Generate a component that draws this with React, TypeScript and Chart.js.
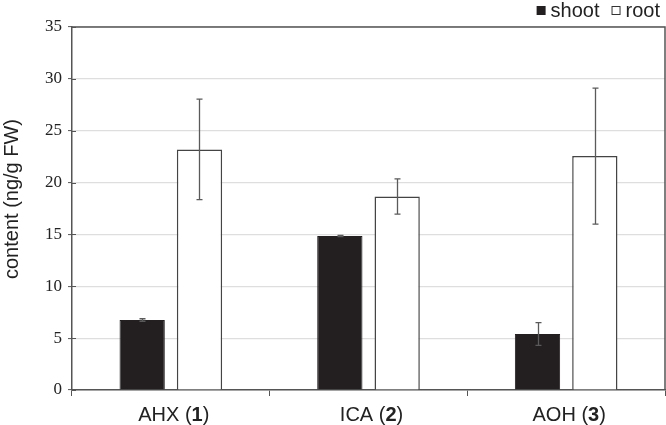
import React, { useEffect, useRef } from 'react';
import { Chart, registerables } from 'chart.js';

Chart.register(...registerables);

const categories = ['AHX', 'ICA', 'AOH'];
const compoundNumbers = ['1', '2', '3'];
const seriesLabels = ['shoot', 'root'];
const shootValues = [6.75, 14.85, 5.4];
const shootErrors = [0.12, 0.06, 1.1];
const rootValues = [23.2, 18.65, 22.55];
const rootErrors = [4.85, 1.7, 6.55];
const yMin = 0;
const yMax = 35;
const yStep = 5;
const yTitle = 'content (ng/g FW)';

const SANS = '"Liberation Sans", Arial, sans-serif';
const SERIF = '"Liberation Serif", "Times New Roman", serif';
const AXIS = '#555555';
const TEXT = '#222222';
const SHOOT = '#231f20';
const LABEL_PX = 20;

const errors = [shootErrors, rootErrors];

const decorPlugin = {
  id: 'decor',
  afterDatasetsDraw(chart: any) {
    const ctx = chart.ctx;
    const y = chart.scales.y;
    ctx.save();
    ctx.strokeStyle = '#5a5a5a';
    ctx.lineWidth = 1.3;
    chart.data.datasets.forEach((ds: any, di: number) => {
      const meta = chart.getDatasetMeta(di);
      meta.data.forEach((el: any, i: number) => {
        const v = ds.data[i];
        const e = errors[di][i];
        const x = Math.round(el.x) + 0.5;
        const yt = y.getPixelForValue(v + e);
        const yb = y.getPixelForValue(v - e);
        ctx.beginPath();
        ctx.moveTo(x, yt);
        ctx.lineTo(x, yb);
        ctx.moveTo(x - 3, yt);
        ctx.lineTo(x + 3, yt);
        ctx.moveTo(x - 3, yb);
        ctx.lineTo(x + 3, yb);
        ctx.stroke();
      });
    });
    ctx.restore();
  },
  afterDraw(chart: any) {
    const ctx = chart.ctx;
    const a = chart.chartArea;
    const ys = chart.scales.y;
    const xs = chart.scales.x;
    ctx.save();
    ctx.strokeStyle = AXIS;
    ctx.lineWidth = 1.5;
    ctx.beginPath();
    ctx.moveTo(a.left, a.top);
    ctx.lineTo(a.right, a.top);
    ctx.lineTo(a.right, a.bottom);
    ctx.stroke();
    ctx.lineWidth = 1;
    ys.ticks.forEach((t: any) => {
      const py = Math.round(ys.getPixelForValue(t.value)) + 0.5;
      ctx.beginPath();
      ctx.moveTo(a.left, py);
      ctx.lineTo(a.left + 4, py);
      ctx.stroke();
    });
    // y title
    ctx.fillStyle = TEXT;
    ctx.font = `${LABEL_PX}px ${SANS}`;
    ctx.textAlign = 'center';
    ctx.textBaseline = 'middle';
    ctx.translate(12, 199);
    ctx.rotate(-Math.PI / 2);
    ctx.fillText(yTitle, 0, 0);
    ctx.setTransform(1, 0, 0, 1, 0, 0);
    // x labels with bold numbers
    ctx.textBaseline = 'alphabetic';
    ctx.textAlign = 'left';
    categories.forEach((c, i) => {
      const cx = xs.getPixelForValue(i);
      const p1 = c + ' (';
      const p2 = compoundNumbers[i];
      const p3 = ')';
      ctx.font = `${LABEL_PX}px ${SANS}`;
      const w1 = ctx.measureText(p1).width;
      const w3 = ctx.measureText(p3).width;
      ctx.font = `bold ${LABEL_PX}px ${SANS}`;
      const w2 = ctx.measureText(p2).width;
      let x = cx + 3 - (w1 + w2 + w3) / 2;
      const by = 421;
      ctx.font = `${LABEL_PX}px ${SANS}`;
      ctx.fillText(p1, x, by);
      x += w1;
      ctx.font = `bold ${LABEL_PX}px ${SANS}`;
      ctx.fillText(p2, x, by);
      x += w2;
      ctx.font = `${LABEL_PX}px ${SANS}`;
      ctx.fillText(p3, x, by);
    });
    // legend
    ctx.font = `${LABEL_PX}px ${SANS}`;
    const box = 9;
    const gapBox = 5;
    const gapItem = 12;
    const wShoot = ctx.measureText(seriesLabels[0]).width;
    const wRoot = ctx.measureText(seriesLabels[1]).width;
    const total = box + gapBox + wShoot + gapItem + box + gapBox + wRoot;
    let lx = 660 - total;
    const base = 17;
    ctx.fillStyle = SHOOT;
    ctx.fillRect(lx, base - 11, box, box);
    lx += box + gapBox;
    ctx.fillStyle = TEXT;
    ctx.fillText(seriesLabels[0], lx, base);
    lx += wShoot + gapItem;
    ctx.fillStyle = '#ffffff';
    ctx.fillRect(lx, base - 11, box, box);
    ctx.strokeStyle = '#333';
    ctx.lineWidth = 1;
    ctx.strokeRect(lx + 0.5, base - 10.5, box - 1, box - 1);
    lx += box + gapBox;
    ctx.fillStyle = TEXT;
    ctx.fillText(seriesLabels[1], lx, base);
    ctx.restore();
  },
};

export default function App() {
  const ref = useRef<HTMLCanvasElement | null>(null);
  useEffect(() => {
    if (!ref.current) return;
    const chart = new Chart(ref.current, {
      type: 'bar',
      data: {
        labels: categories,
        datasets: [
          {
            label: seriesLabels[0],
            data: shootValues,
            backgroundColor: SHOOT,
            borderColor: SHOOT,
            borderWidth: 1,
            barPercentage: 0.79,
            categoryPercentage: 0.58,
          },
          {
            label: seriesLabels[1],
            data: rootValues,
            backgroundColor: '#ffffff',
            borderColor: '#444444',
            borderWidth: 1.5,
            barPercentage: 0.79,
            categoryPercentage: 0.58,
          },
        ],
      },
      options: {
        animation: false,
        responsive: true,
        maintainAspectRatio: false,
        layout: { padding: { top: 27, right: 1, left: 0, bottom: 0 } },
        plugins: {
          legend: { display: false },
          tooltip: { enabled: false },
          title: { display: false },
        },
        scales: {
          x: {
            offset: true,
            grid: {
              offset: true,
              drawOnChartArea: false,
              drawTicks: true,
              tickLength: 6,
              tickColor: AXIS,
              tickWidth: 1,
            },
            border: { color: AXIS, width: 1.5 },
            ticks: { display: false },
            afterFit: (s: any) => {
              s.height = 35;
            },
          },
          y: {
            min: yMin,
            max: yMax,
            ticks: {
              stepSize: yStep,
              padding: 6,
              color: TEXT,
              font: { family: SERIF, size: 17 },
            },
            grid: {
              color: '#dedede',
              lineWidth: 1.2,
              tickLength: 4,
              tickColor: AXIS,
              tickWidth: 1,
            },
            border: { color: AXIS, width: 1.5 },
            afterFit: (s: any) => {
              s.width = 72;
            },
          },
        },
      },
      plugins: [decorPlugin],
    });
    return () => chart.destroy();
  }, []);
  return (
    <div style={{ position: 'absolute', left: 0, top: 0, width: 666, height: 425, background: '#fff' }}>
      <canvas ref={ref} />
    </div>
  );
}
